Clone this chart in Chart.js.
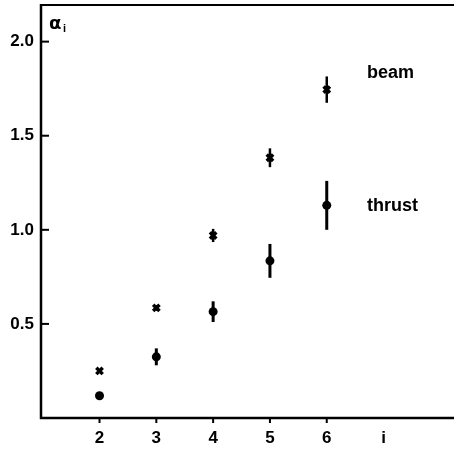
<!DOCTYPE html>
<html>
<head>
<meta charset="utf-8">
<script src="https://cdn.jsdelivr.net/npm/chart.js@4.4.1/dist/chart.umd.min.js"></script>
<style>
  html, body { margin: 0; padding: 0; background: #fff; overflow: hidden; }
  #wrap { width: 454px; height: 449px; }
</style>
</head>
<body>
<div id="wrap"><canvas id="c"></canvas></div>
<script>
// values
const orders = [2, 3, 4, 5, 6];
const beamVals = [0.25, 0.585, 0.97, 1.383, 1.745];
const beamErr = [0, 0.015, 0.035, 0.05, 0.07];
const thrustVals = [0.118, 0.325, 0.565, 0.835, 1.13];
const thrustErr = [0, 0.045, 0.055, 0.09, 0.13];
const yTicks = [0.5, 1.0, 1.5, 2.0];
const xTicks = [2, 3, 4, 5, 6, 7];

const ink = "#000";
const labelFont = { family: "Liberation Sans", weight: "bold", size: 17 };

// error bars, inner ticks, top frame line, text labels
const decor = {
  id: "decor",
  beforeDatasetsDraw(chart) {
    const { ctx, chartArea: a, scales: { x, y } } = chart;
    ctx.save();
    ctx.strokeStyle = ink;
    ctx.lineCap = "butt";

    // frame: left, bottom, top
    ctx.lineWidth = 2.5;
    ctx.beginPath();
    ctx.moveTo(a.left, a.top);
    ctx.lineTo(a.left, a.bottom);
    ctx.lineTo(a.right, a.bottom);
    ctx.stroke();
    ctx.lineWidth = 2;
    ctx.beginPath();
    ctx.moveTo(a.left, a.top + 1);
    ctx.lineTo(a.right, a.top + 1);
    ctx.stroke();

    // y ticks point inward
    ctx.lineWidth = 2;
    yTicks.forEach(v => {
      const py = y.getPixelForValue(v);
      ctx.beginPath();
      ctx.moveTo(a.left, py);
      ctx.lineTo(a.left + 8, py);
      ctx.stroke();
    });
    // x ticks point outward
    orders.forEach(v => {
      const px = x.getPixelForValue(v);
      ctx.beginPath();
      ctx.moveTo(px, a.bottom);
      ctx.lineTo(px, a.bottom + 5);
      ctx.stroke();
    });

    // error bars
    const bars = (vals, errs, w) => {
      ctx.lineWidth = w;
      vals.forEach((v, i) => {
        if (!errs[i]) return;
        const px = x.getPixelForValue(orders[i]);
        ctx.beginPath();
        ctx.moveTo(px, y.getPixelForValue(v + errs[i]));
        ctx.lineTo(px, y.getPixelForValue(v - errs[i]));
        ctx.stroke();
      });
    };
    bars(beamVals, beamErr, 2.5);
    bars(thrustVals, thrustErr, 3);

    // labels
    ctx.fillStyle = ink;
    ctx.textBaseline = "middle";
    ctx.textAlign = "left";
    ctx.font = "bold 18px 'Liberation Sans'";
    ctx.fillText("beam", 367, 73);
    ctx.fillText("thrust", 367, 206);
    ctx.font = "bold 18px 'DejaVu Sans'";
    ctx.fillText("α", 49, 24);
    ctx.font = "bold 11px 'Liberation Sans'";
    ctx.fillText("i", 63, 29);
    ctx.restore();
  }
};

new Chart(document.getElementById("c"), {
  type: "scatter",
  data: {
    datasets: [
      {
        label: "beam",
        data: orders.map((o, i) => ({ x: o, y: beamVals[i] })),
        pointStyle: "crossRot",
        pointRadius: 4.5,
        borderWidth: 3.5,
        borderColor: ink,
        backgroundColor: ink
      },
      {
        label: "thrust",
        data: orders.map((o, i) => ({ x: o, y: thrustVals[i] })),
        pointStyle: "circle",
        pointRadius: 4.5,
        borderWidth: 0,
        backgroundColor: ink
      }
    ]
  },
  options: {
    responsive: true,
    maintainAspectRatio: false,
    animation: false,
    layout: { autoPadding: false, padding: { top: 4, right: 0, left: 0, bottom: 0 } },
    plugins: { legend: { display: false }, tooltip: { enabled: false } },
    scales: {
      x: {
        type: "linear",
        min: 0.97,
        max: 8.24,
        afterBuildTicks: s => { s.ticks = xTicks.map(v => ({ value: v })); },
        afterFit: s => { s.height = 31; s.paddingLeft = 0; s.paddingRight = 0; },
        grid: { display: false, drawTicks: false },
        border: { display: false },
        ticks: {
          color: ink,
          font: labelFont,
          padding: 10,
          callback: v => (v === 7 ? "i" : String(v))
        }
      },
      y: {
        min: 0,
        max: 2.2,
        afterBuildTicks: s => { s.ticks = yTicks.map(v => ({ value: v })); },
        afterFit: s => { s.width = 41; s.paddingTop = 0; s.paddingBottom = 0; },
        grid: { display: false, drawTicks: false },
        border: { display: false },
        ticks: {
          color: ink,
          font: labelFont,
          padding: 7,
          callback: v => v.toFixed(1)
        }
      }
    }
  },
  plugins: [decor]
});
</script>
</body>
</html>
